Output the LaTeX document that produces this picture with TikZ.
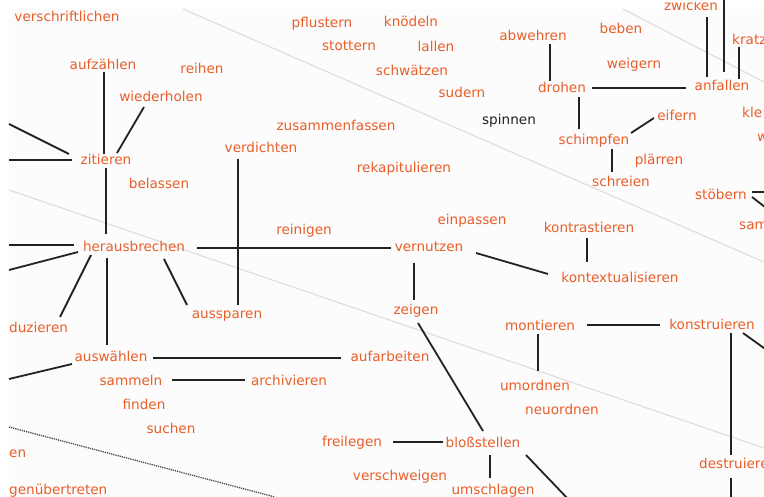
\documentclass[tikz,border=0pt]{standalone}
\usepackage{fontspec}
\setmainfont{DejaVu Sans}
\definecolor{wcol}{HTML}{E95E28}
\definecolor{kcol}{HTML}{222222}
\definecolor{lcol}{HTML}{222222}
\definecolor{gcol}{HTML}{DDDDDD}
\definecolor{bgcol}{HTML}{FCFCFC}
\definecolor{dcol}{HTML}{444444}
\begin{document}
\begin{tikzpicture}[x=1pt,y=-1pt,
  w/.style={text=wcol,font=\fontsize{13.6}{16}\selectfont,inner sep=0pt,text height=9pt,text depth=0pt},
  wk/.style={w,text=kcol},
  wl/.style={w,anchor=west},
  link/.style={draw=lcol,line width=1.8pt},
  guide/.style={draw=gcol,line width=1.1pt},
  dotline/.style={draw=dcol,line width=1.3pt,dash pattern=on 1.2pt off 1pt}]
\useasboundingbox (0,0) rectangle (764,497);
\clip (0,0) rectangle (764,497);
\fill[white] (0,0) rectangle (764,497);
\fill[bgcol] (9,9) rectangle (764,497);
% guide lines
\coordinate (g1a) at (183,9);  \coordinate (g1b) at (764,262);
\coordinate (g2a) at (623,9);  \coordinate (g2b) at (764,82);
\coordinate (g3a) at (9,190);  \coordinate (g3b) at (764,448);
\coordinate (g4a) at (9,427);  \coordinate (g4b) at (275,497);
\draw[guide] (g1a) -- (g1b);
\draw[guide] (g2a) -- (g2b);
\draw[guide] (g3a) -- (g3b);
\draw[dotline] (g4a) -- (g4b);
% words
\node[w] (verschriftlichen) at (67,17) {verschriftlichen};
\node[w] (aufzaehlen) at (103,65) {aufzählen};
\node[w] (reihen) at (202,69) {reihen};
\node[w] (wiederholen) at (161,97) {wiederholen};
\node[w] (zitieren) at (106,160) {zitieren};
\node[w] (verdichten) at (261,148) {verdichten};
\node[w] (belassen) at (159,184) {belassen};
\node[w] (herausbrechen) at (134,247) {herausbrechen};
\node[wl] (duzieren) at (9,328) {duzieren};
\node[w] (aussparen) at (227,314) {aussparen};
\node[w] (auswaehlen) at (111,357) {auswählen};
\node[w] (sammeln) at (131,381) {sammeln};
\node[w] (archivieren) at (289,381) {archivieren};
\node[w] (finden) at (144,405) {finden};
\node[w] (suchen) at (171,429) {suchen};
\node[wl] (en) at (9,453) {en};
\node[wl] (genuebertreten) at (9,490) {genübertreten};
\node[w] (aufarbeiten) at (390,357) {aufarbeiten};
\node[w] (pflustern) at (322,23) {pflustern};
\node[w] (knoedeln) at (411,22) {knödeln};
\node[w] (stottern) at (349,46) {stottern};
\node[w] (lallen) at (436,47) {lallen};
\node[w] (schwaetzen) at (412,71) {schwätzen};
\node[w] (sudern) at (462,93) {sudern};
\node[wk] (spinnen) at (509,120) {spinnen};
\node[w] (zusammenfassen) at (336,126) {zusammenfassen};
\node[w] (rekapitulieren) at (404,168) {rekapitulieren};
\node[w] (reinigen) at (304,230) {reinigen};
\node[w] (vernutzen) at (429,247) {vernutzen};
\node[w] (einpassen) at (472,220) {einpassen};
\node[w] (zeigen) at (416,310) {zeigen};
\node[w] (abwehren) at (533,36) {abwehren};
\node[w] (beben) at (621,29) {beben};
\node[w] (weigern) at (634,64) {weigern};
\node[w] (drohen) at (562,88) {drohen};
\node[w] (anfallen) at (722,86) {anfallen};
\begin{scope}
\clip (0,3) rectangle (764,497);
\node[w] (zwicken) at (691,6) {zwicken};
\end{scope}
\node[wl] (kratz) at (732,40) {kratz};
\node[wl] (kle) at (742,113) {kle};
\node[wl] (wpart) at (757,137) {w};
\node[w] (eifern) at (677,116) {eifern};
\node[w] (schimpfen) at (594,140) {schimpfen};
\node[w] (plaerren) at (659,160) {plärren};
\node[w] (schreien) at (621,182) {schreien};
\node[w] (stoebern) at (721,195) {stöbern};
\node[wl] (sam) at (739,225) {sam};
\node[w] (kontrastieren) at (589,228) {kontrastieren};
\node[w] (kontextualisieren) at (620,278) {kontextualisieren};
\node[w] (montieren) at (540,326) {montieren};
\node[w] (konstruieren) at (712,325) {konstruieren};
\node[w] (umordnen) at (535,386) {umordnen};
\node[w] (neuordnen) at (562,410) {neuordnen};
\node[wl] (destruiere) at (699,464) {destruiere};
\node[w] (freilegen) at (352,442) {freilegen};
\node[w] (blossstellen) at (483,443) {bloßstellen};
\node[w] (verschweigen) at (400,476) {verschweigen};
\node[w] (umschlagen) at (493,490) {umschlagen};
% free ends
\coordinate (L1) at (9,124);
\coordinate (L2) at (9,160);
\coordinate (L3) at (9,245);
\coordinate (L4) at (9,270);
\coordinate (L5) at (9,379);
\coordinate (offA) at (724,-2);
\coordinate (offB) at (569,500);
\coordinate (offD) at (731,500);
\coordinate (offK) at (775,356);
\coordinate (offS1) at (770,192);
\coordinate (offS2) at (770,211);
% connectors
\draw[link] ([shift={(1,7)}]aufzaehlen.center) -- ([shift={(-2,-6)}]zitieren.center);
\draw[link] ([shift={(-17,10)}]wiederholen.center) -- ([shift={(11,-7)}]zitieren.center);
\draw[link] ([shift={(0,8)}]zitieren.center) -- ([shift={(-28,-13)}]herausbrechen.center);
\draw[link] (L1) -- ([shift={(-37,-6)}]zitieren.center);
\draw[link] (L2) -- ([shift={(-34,0)}]zitieren.center);
\draw[link] (L3) -- ([shift={(-60,-2)}]herausbrechen.center);
\draw[link] (L4) -- ([shift={(-56,5)}]herausbrechen.center);
\draw[link] ([shift={(-27,11)}]herausbrechen.center) -- ([shift={(-4,-12)}]auswaehlen.center);
\draw[link] ([shift={(-43,8)}]herausbrechen.center) -- ([shift={(51,-11)}]duzieren.west);
\draw[link] ([shift={(30,12)}]herausbrechen.center) -- ([shift={(-40,-9)}]aussparen.center);
\draw[link] ([shift={(63,1)}]herausbrechen.center) -- ([shift={(-38,1)}]vernutzen.center);
\draw[link] ([shift={(-23,11)}]verdichten.center) -- ([shift={(11,-9)}]aussparen.center);
\draw[link] (L5) -- ([shift={(-39,7)}]auswaehlen.center);
\draw[link] ([shift={(42,1)}]auswaehlen.center) -- ([shift={(-49,1)}]aufarbeiten.center);
\draw[link] ([shift={(41,-1)}]sammeln.center) -- ([shift={(-44,-1)}]archivieren.center);
\draw[link] ([shift={(-15,16)}]vernutzen.center) -- ([shift={(-2,-10)}]zeigen.center);
\draw[link] ([shift={(2,13)}]zeigen.center) -- ([shift={(0,-12)}]blossstellen.center);
\draw[link] ([shift={(47,6)}]vernutzen.center) -- ([shift={(-72,-4)}]kontextualisieren.center);
\draw[link] ([shift={(-2,10)}]kontrastieren.center) -- ([shift={(-33,-16)}]kontextualisieren.center);
\draw[link] ([shift={(41,0)}]freilegen.center) -- ([shift={(-40,-1)}]blossstellen.center);
\draw[link] ([shift={(7,12)}]blossstellen.center) -- ([shift={(-3,-12)}]umschlagen.center);
\draw[link] ([shift={(43,12)}]blossstellen.center) -- (offB);
\draw[link] ([shift={(47,-1)}]montieren.center) -- ([shift={(-52,0)}]konstruieren.center);
\draw[link] ([shift={(-2,8)}]montieren.center) -- ([shift={(3,-15)}]umordnen.center);
\draw[link] ([shift={(19,8)}]konstruieren.center) -- ([shift={(32,-9)}]destruiere.west);
\draw[link] ([shift={(32,14)}]destruiere.west) -- (offD);
\draw[link] ([shift={(31,8)}]konstruieren.center) -- (offK);
\draw[link] ([shift={(31,-3)}]stoebern.center) -- (offS1);
\draw[link] ([shift={(31,2)}]stoebern.center) -- (offS2);
\draw[link] ([shift={(30,0)}]drohen.center) -- ([shift={(-36,2)}]anfallen.center);
\draw[link] ([shift={(17,8)}]abwehren.center) -- ([shift={(-12,-7)}]drohen.center);
\draw[link] ([shift={(17,9)}]drohen.center) -- ([shift={(-15,-11)}]schimpfen.center);
\draw[link] ([shift={(37,-7)}]schimpfen.center) -- ([shift={(-23,2)}]eifern.center);
\draw[link] ([shift={(18,9)}]schimpfen.center) -- ([shift={(-9,-10)}]schreien.center);
\draw[link] ([shift={(16,11)}]zwicken.center) -- ([shift={(-15,-9)}]anfallen.center);
\draw[link] ([shift={(2,-14)}]anfallen.center) -- (offA);
\draw[link] ([shift={(7,7)}]kratz.west) -- ([shift={(17,-7)}]anfallen.center);
\end{tikzpicture}
\end{document}
